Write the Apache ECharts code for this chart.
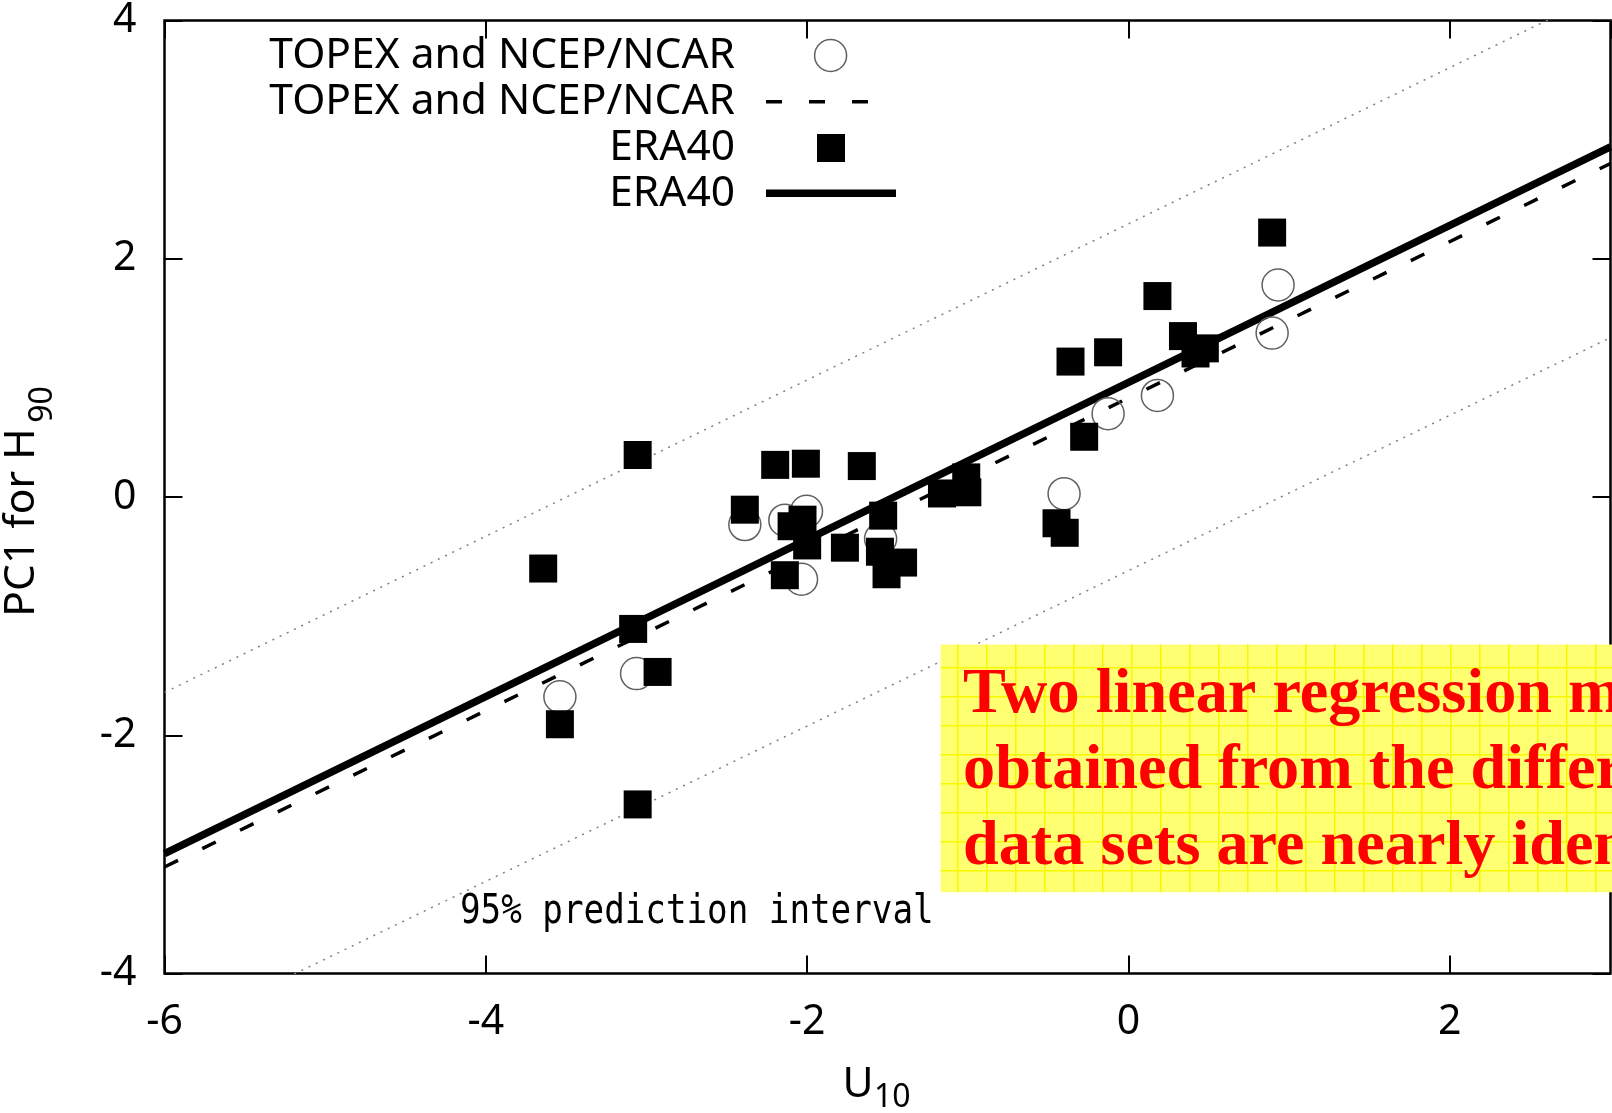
<!DOCTYPE html>
<html>
<head>
<meta charset="utf-8">
<script src="https://cdn.jsdelivr.net/npm/echarts@6/dist/echarts.min.js"></script>
<style>
html,body{margin:0;padding:0;background:#fff;}
#chart{width:1612px;height:1113px;}
</style>
</head>
<body>
<div id="chart"></div>
<script>
// ---- data ----
const xTicks = [-6, -4, -2, 0, 2];
const yTicks = [-4, -2, 0, 2, 4];

// TOPEX and NCEP/NCAR points (open circles)
const topexU  = [-2.388, -2.139, -2.004, -1.543, -2.035, -3.062, -3.539, -0.127, 0.180, -0.401, 0.931, 0.894];
const topexPC = [-0.231, -0.194, -0.120, -0.350, -0.690, -1.482, -1.676, 0.700, 0.853, 0.028, 1.780, 1.376];

// ERA40 points (filled squares)
const eraU  = [-3.055, -3.643, -2.199, -2.008, -1.660, -2.388, -2.029, -2.097, -2.000, -1.765, -1.527, -1.547, -1.403, -1.506, -2.139, -1.161, -1.010, -1.003, -3.083, -2.931, -3.539, -3.055, -0.361, -0.127, 0.180, 0.339, 0.417, 0.475, -0.276, -0.448, -0.397, 0.894];
const eraPC = [0.353, -0.600, 0.270, 0.280, 0.260, -0.106, -0.190, -0.245, -0.406, -0.425, -0.156, -0.459, -0.550, -0.648, -0.656, 0.030, 0.165, 0.040, -1.107, -1.468, -1.907, -2.580, 1.137, 1.215, 1.687, 1.351, 1.205, 1.248, 0.506, -0.220, -0.300, 2.220];

// regression lines (end points)
const eraFitU = [-6, 3],   eraFitPC = [-2.993, 2.94];
const topexFitU = [-6, 3], topexFitPC = [-3.105, 2.80];
// 95% prediction interval bounds
const piUpperU = [-6, 3], piUpperPC = [-1.64, 4.26];
const piLowerU = [-6, 3], piLowerPC = [-4.53, 1.338];

const legendLabels = ['TOPEX and NCEP/NCAR', 'TOPEX and NCEP/NCAR', 'ERA40', 'ERA40'];
const xName = ['U', '10'];
const yName = ['PC1 for H', '90'];
const piLabel = '95% prediction interval';
const noteLines = ['Two linear regression models', 'obtained from the different', 'data sets are nearly identical.'];

function pairs(a, b) { return a.map((v, i) => [v, b[i]]); }

// yellow textured background pattern
const pc = document.createElement('canvas');
pc.width = 29; pc.height = 29;
const pctx = pc.getContext('2d');
pctx.fillStyle = '#ffff72';
pctx.fillRect(0, 0, 29, 29);
pctx.strokeStyle = '#f7f700';
pctx.lineWidth = 1.5;
pctx.beginPath();
pctx.moveTo(0.75, 0); pctx.lineTo(0.75, 29);
pctx.moveTo(0, 0.75); pctx.lineTo(29, 0.75);
pctx.stroke();

const chart = echarts.init(document.getElementById('chart'), null, {renderer: 'canvas'});

const tickCommon = {show: true, inside: true, length: 18, lineStyle: {color: '#000', width: 2}};
const labelFont = {fontSize: 41, fontFamily: 'Noto Sans', color: '#000'};
const sansFont = '42.5px "Noto Sans"';
const subFont = '32px "Noto Sans"';
const noteFont = 'bold 63px "Liberation Serif"';
const noAxisLine = {show: false, onZero: false};

const option = {
  animation: false,
  backgroundColor: '#fff',
  grid: {left: 164.5, right: 1.5, top: 14.4, bottom: 139.4, show: true, borderColor: '#000', borderWidth: 2.5, backgroundColor: 'transparent'},
  xAxis: [
    {type: 'value', min: xTicks[0], max: 3, interval: 2, position: 'bottom',
     axisLine: noAxisLine, splitLine: {show: false}, axisTick: tickCommon,
     axisLabel: Object.assign({margin: 28, showMaxLabel: false}, labelFont)},
    {type: 'value', min: xTicks[0], max: 3, interval: 2, position: 'top',
     axisLine: noAxisLine, splitLine: {show: false}, axisTick: tickCommon,
     axisLabel: {show: false}}
  ],
  yAxis: [
    {type: 'value', min: yTicks[0], max: yTicks[yTicks.length - 1], interval: 2, position: 'left',
     axisLine: noAxisLine, splitLine: {show: false}, axisTick: tickCommon,
     axisLabel: Object.assign({margin: 28}, labelFont)},
    {type: 'value', min: yTicks[0], max: yTicks[yTicks.length - 1], interval: 2, position: 'right',
     axisLine: noAxisLine, splitLine: {show: false}, axisTick: tickCommon,
     axisLabel: {show: false}}
  ],
  series: [
    {name: '95% upper', type: 'line', data: pairs(piUpperU, piUpperPC), showSymbol: false, z: 1,
     lineStyle: {color: '#808080', width: 1.5, type: [2, 6]}},
    {name: '95% lower', type: 'line', data: pairs(piLowerU, piLowerPC), showSymbol: false, z: 1,
     lineStyle: {color: '#808080', width: 1.5, type: [2, 6]}},
    {name: legendLabels[1], type: 'line', data: pairs(topexFitU, topexFitPC), showSymbol: false, z: 2,
     lineStyle: {color: '#000', width: 3.5, type: [15, 27]}},
    {name: legendLabels[3], type: 'line', data: pairs(eraFitU, eraFitPC), showSymbol: false, z: 2,
     lineStyle: {color: '#000', width: 7.5}},
    {name: legendLabels[0], type: 'scatter', data: pairs(topexU, topexPC), symbol: 'circle', symbolSize: 32, z: 3,
     itemStyle: {color: 'rgba(0,0,0,0)', borderColor: '#606060', borderWidth: 1.5, opacity: 1}},
    {name: legendLabels[2], type: 'scatter', data: pairs(eraU, eraPC), symbol: 'rect', symbolSize: 28, z: 4,
     itemStyle: {color: '#000', opacity: 1}}
  ],
  graphic: [
    // legend
    {type: 'text', x: 735, y: 56, z: 50, style: {text: legendLabels[0], font: sansFont, fill: '#000', align: 'right', textAlign: 'right', verticalAlign: 'middle', textVerticalAlign: 'middle'}},
    {type: 'circle', shape: {cx: 830.6, cy: 55.5, r: 16}, z: 50, style: {fill: 'none', stroke: '#606060', lineWidth: 1.5}},
    {type: 'text', x: 735, y: 102, z: 50, style: {text: legendLabels[1], font: sansFont, fill: '#000', align: 'right', textAlign: 'right', verticalAlign: 'middle', textVerticalAlign: 'middle'}},
    {type: 'line', shape: {x1: 766, y1: 101.8, x2: 869, y2: 101.8}, z: 50, style: {stroke: '#000', lineWidth: 3.5, lineDash: [16, 27]}},
    {type: 'text', x: 735, y: 148, z: 50, style: {text: legendLabels[2], font: sansFont, fill: '#000', align: 'right', textAlign: 'right', verticalAlign: 'middle', textVerticalAlign: 'middle'}},
    {type: 'rect', shape: {x: 817, y: 134, width: 28, height: 28}, z: 50, style: {fill: '#000'}},
    {type: 'text', x: 735, y: 193.5, z: 50, style: {text: legendLabels[3], font: sansFont, fill: '#000', align: 'right', textAlign: 'right', verticalAlign: 'middle', textVerticalAlign: 'middle'}},
    {type: 'line', shape: {x1: 766, y1: 193.3, x2: 896, y2: 193.3}, z: 50, style: {stroke: '#000', lineWidth: 7.5}},
    // axis names
    {type: 'text', x: 21.7, y: 522.5, rotation: Math.PI / 2, z: 50, style: {text: yName[0], font: sansFont, fill: '#000', align: 'center', textAlign: 'center', verticalAlign: 'middle', textVerticalAlign: 'middle'}},
    {type: 'text', x: 43, y: 404.5, rotation: Math.PI / 2, z: 50, style: {text: yName[1], font: subFont, fill: '#000', align: 'center', textAlign: 'center', verticalAlign: 'middle', textVerticalAlign: 'middle'}},
    {type: 'text', x: 858, y: 1085, z: 50, style: {text: xName[0], font: sansFont, fill: '#000', align: 'center', textAlign: 'center', verticalAlign: 'middle', textVerticalAlign: 'middle'}},
    {type: 'text', x: 874, y: 1098, z: 50, style: {text: xName[1], font: subFont, fill: '#000', align: 'left', textAlign: 'left', verticalAlign: 'middle', textVerticalAlign: 'middle'}},
    // prediction interval label
    {type: 'text', x: 460, y: 913, scaleX: 0.855, z: 50, style: {text: piLabel, font: '40px "DejaVu Sans Mono"', fill: '#000', align: 'left', textAlign: 'left', verticalAlign: 'middle', textVerticalAlign: 'middle'}},
    // yellow note box
    {type: 'rect', shape: {x: 940.6, y: 644.6, width: 680, height: 247.7}, z: 60, style: {fill: {image: pc, repeat: 'repeat'}}},
    {type: 'text', x: 963, y: 695.5, scaleX: 1.02, z: 61, style: {text: noteLines[0], font: noteFont, fill: '#ff0000', align: 'left', textAlign: 'left', verticalAlign: 'middle', textVerticalAlign: 'middle'}},
    {type: 'text', x: 963, y: 771.5, scaleX: 1.02, z: 61, style: {text: noteLines[1], font: noteFont, fill: '#ff0000', align: 'left', textAlign: 'left', verticalAlign: 'middle', textVerticalAlign: 'middle'}},
    {type: 'text', x: 963, y: 848, scaleX: 1.02, z: 61, style: {text: noteLines[2], font: noteFont, fill: '#ff0000', align: 'left', textAlign: 'left', verticalAlign: 'middle', textVerticalAlign: 'middle'}}
  ]
};
chart.setOption(option);
</script>
</body>
</html>
